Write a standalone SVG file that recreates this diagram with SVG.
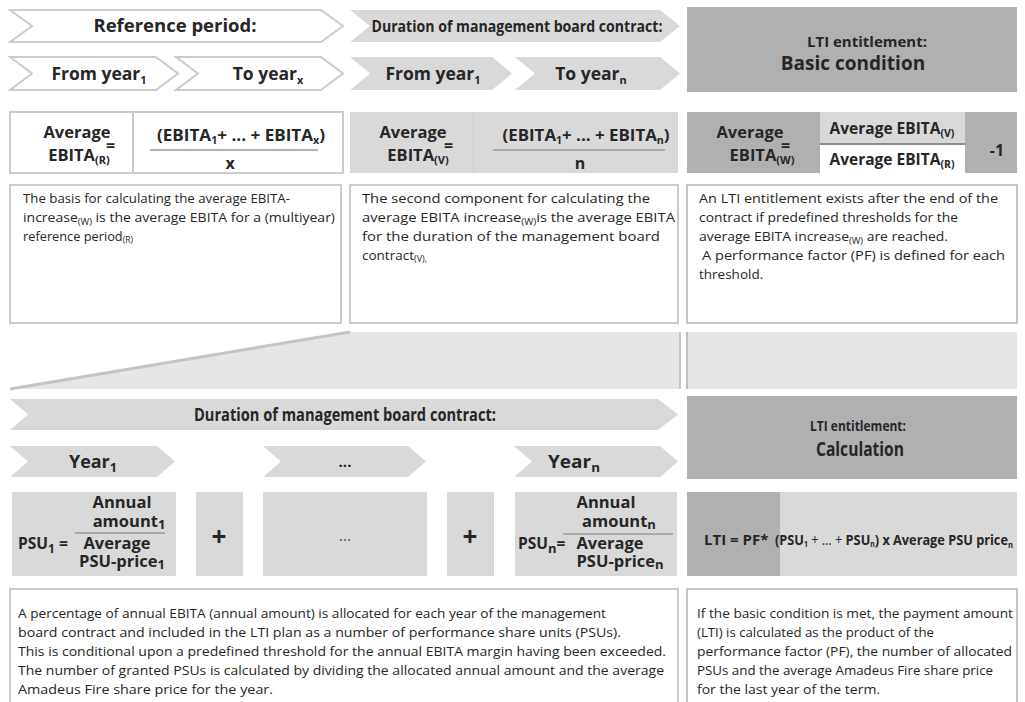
<svg xmlns="http://www.w3.org/2000/svg" width="1025" height="702" viewBox="0 0 1025 702">
<style>
.b{font-family:"Open Sans","Noto Sans","Liberation Sans",sans-serif;font-weight:700;fill:#262626}
.t{font-family:"Open Sans","Noto Sans","Liberation Sans",sans-serif;font-size:13.5px;fill:#262626}
.ol{fill:#fff;stroke:#cbcbcb;stroke-width:2}
.olr{fill:#fff;stroke:#b3b3b3;stroke-width:1.5}
.lg{fill:#d9d9d9}
.dg{fill:#b0b0b0}
.bd{fill:#e6e6e6}
.m{text-anchor:middle}
.fl{stroke:#999;stroke-width:1.5}
</style>
<rect width="1025" height="702" fill="#fff"/>

<g id="reference-period">
<path class="ol" d="M10,10 H321 L343,26 L321,42 H10 L32,26 Z"/>
<text class="b m" x="175" y="32" font-size="18.5">Reference period:</text>
</g>
<g id="duration-top">
<path class="lg" d="M350,10 H660 L680,26 L660,42 H350 L370,26 Z"/>
<text class="b m" x="517" y="32" font-size="16.5" textLength="291" lengthAdjust="spacingAndGlyphs">Duration of management board contract:</text>
</g>
<g id="lti-basic">
<rect class="dg" x="687" y="7" width="330" height="85"/>
<text class="b m" x="867" y="47" font-size="15">LTI entitlement:</text>
<text class="b m" x="853" y="70" font-size="19">Basic condition</text>
</g>

<g id="from-year-r">
<path class="ol" d="M10,57 H156 L178,73.5 L156,90 H10 L32,73.5 Z"/>
<text class="b m" x="99" y="80" font-size="17.5">From year<tspan font-size="11" dy="4">1</tspan></text>
</g>
<g id="to-year-x">
<path class="ol" d="M176,57 H321 L343,73.5 L321,90 H176 L198,73.5 Z"/>
<text class="b m" x="268" y="80" font-size="17.5">To year<tspan font-size="11" dy="4">x</tspan></text>
</g>
<g id="from-year-v">
<path class="lg" d="M350,57 H492 L512,73.5 L492,90 H350 L370,73.5 Z"/>
<text class="b m" x="433" y="80" font-size="17.5">From year<tspan font-size="11" dy="4">1</tspan></text>
</g>
<g id="to-year-n">
<path class="lg" d="M515,57 H660 L680,73.5 L660,90 H515 L535,73.5 Z"/>
<text class="b m" x="591" y="80" font-size="17.5">To year<tspan font-size="11" dy="4">n</tspan></text>
</g>

<g id="formula-r">
<rect class="ol" x="10" y="112" width="333" height="61"/>
<line x1="133" y1="112" x2="133" y2="173" stroke="#cbcbcb" stroke-width="2"/>
<text class="b m" x="77" y="138" font-size="16.5">Average</text>
<text class="b" x="106" y="151" font-size="16">=</text>
<text class="b m" x="79" y="161" font-size="16.5">EBITA<tspan font-size="11" dy="3">(R)</tspan></text>
<text class="b m" x="241" y="141" font-size="16" textLength="168" lengthAdjust="spacingAndGlyphs">(EBITA<tspan font-size="10" dy="3">1</tspan><tspan dy="-3">+ ... + EBITA</tspan><tspan font-size="10" dy="3">x</tspan><tspan dy="-3">)</tspan></text>
<line class="fl" x1="150" y1="150" x2="318" y2="150"/>
<text class="b m" x="230" y="169" font-size="16">x</text>
</g>

<g id="formula-v">
<rect class="lg" x="350" y="112" width="328" height="61"/>
<line x1="473" y1="112" x2="473" y2="173" stroke="#d0d0d0" stroke-width="1"/>
<text class="b m" x="413" y="138" font-size="16.5">Average</text>
<text class="b" x="444" y="151" font-size="16">=</text>
<text class="b m" x="418" y="161" font-size="16.5">EBITA<tspan font-size="11" dy="3">(V)</tspan></text>
<text class="b m" x="586" y="141" font-size="16" textLength="167" lengthAdjust="spacingAndGlyphs">(EBITA<tspan font-size="10" dy="3">1</tspan><tspan dy="-3">+ ... + EBITA</tspan><tspan font-size="10" dy="3">n</tspan><tspan dy="-3">)</tspan></text>
<line class="fl" x1="493" y1="150" x2="665" y2="150"/>
<text class="b m" x="580" y="169" font-size="16">n</text>
</g>

<g id="formula-w">
<rect class="dg" x="687" y="112" width="330" height="61"/>
<rect fill="#d9d9d9" x="820" y="112" width="145" height="31"/>
<rect fill="#fff" x="820" y="145" width="145" height="28"/>
<line x1="820" y1="144" x2="965" y2="144" stroke="#8c8c8c" stroke-width="2"/>
<text class="b m" x="750" y="138" font-size="16.5">Average</text>
<text class="b" x="781" y="151" font-size="16">=</text>
<text class="b m" x="762" y="161" font-size="16.5">EBITA<tspan font-size="11" dy="3">(W)</tspan></text>
<text class="b m" x="892" y="134" font-size="15.5">Average EBITA<tspan font-size="10.5" dy="3">(V)</tspan></text>
<text class="b m" x="892" y="165" font-size="15.5">Average EBITA<tspan font-size="10.5" dy="3">(R)</tspan></text>
<text class="b m" x="997" y="156" font-size="16">-1</text>
</g>

<g id="text-r">
<rect class="ol" x="10" y="185" width="331" height="138"/>
<text class="t" x="23" y="203" textLength="267" lengthAdjust="spacingAndGlyphs">The basis for calculating the average EBITA-</text>
<text class="t" x="23" y="222" textLength="312" lengthAdjust="spacingAndGlyphs">increase<tspan font-size="9" dy="3">(W)</tspan><tspan dy="-3"> is the average EBITA for a (multiyear)</tspan></text>
<text class="t" x="23" y="241" textLength="110" lengthAdjust="spacingAndGlyphs">reference period<tspan font-size="9" dy="2">(R)</tspan></text>
</g>
<g id="text-v">
<rect class="ol" x="350" y="185" width="328" height="138"/>
<text class="t" x="362" y="203" textLength="288" lengthAdjust="spacingAndGlyphs">The second component for calculating the</text>
<text class="t" x="362" y="222" textLength="313" lengthAdjust="spacingAndGlyphs">average EBITA increase<tspan font-size="9" dy="3">(W)</tspan><tspan dy="-3">is the average EBITA</tspan></text>
<text class="t" x="362" y="241" textLength="298" lengthAdjust="spacingAndGlyphs">for the duration of the management board</text>
<text class="t" x="362" y="260">contract<tspan font-size="9" dy="2">(V),</tspan></text>
</g>
<g id="text-w">
<rect class="olr" x="687" y="185" width="330" height="138"/>
<text class="t" x="699" y="203" textLength="299" lengthAdjust="spacingAndGlyphs">An LTI entitlement exists after the end of the</text>
<text class="t" x="699" y="222" textLength="259" lengthAdjust="spacingAndGlyphs">contract if predefined thresholds for the</text>
<text class="t" x="699" y="241" textLength="249" lengthAdjust="spacingAndGlyphs">average EBITA increase<tspan font-size="9" dy="3">(W)</tspan><tspan dy="-3"> are reached.</tspan></text>
<text class="t" x="702" y="260" textLength="303" lengthAdjust="spacingAndGlyphs">A performance factor (PF) is defined for each</text>
<text class="t" x="699" y="279">threshold.</text>
</g>

<g id="transition-band">
<polygon class="bd" points="10,389 350,332 680,332 680,389"/>
<line x1="10" y1="389" x2="350" y2="332" stroke="#c4c4c4" stroke-width="3"/>
<line x1="680" y1="332" x2="680" y2="389" stroke="#c4c4c4" stroke-width="2"/>
<rect class="bd" x="687" y="332" width="330" height="57"/>
<line x1="687" y1="332" x2="687" y2="389" stroke="#bdbdbd" stroke-width="2"/>
</g>

<g id="duration-bottom">
<path class="lg" d="M10,399 H658 L678,414.5 L658,430 H10 L28,414.5 Z"/>
<text class="b m" x="345" y="421" font-size="18" textLength="302" lengthAdjust="spacingAndGlyphs">Duration of management board contract:</text>
</g>
<g id="lti-calc">
<rect class="dg" x="687" y="396" width="330" height="83"/>
<text class="b m" x="858" y="431" font-size="15" textLength="96" lengthAdjust="spacingAndGlyphs">LTI entitlement:</text>
<text class="b m" x="860" y="456" font-size="19" textLength="88" lengthAdjust="spacingAndGlyphs">Calculation</text>
</g>

<g id="year-1">
<path class="lg" d="M10,446 H157 L175,461.5 L157,477 H10 L28,461.5 Z"/>
<text class="b m" x="93" y="468" font-size="17" textLength="48" lengthAdjust="spacingAndGlyphs">Year<tspan font-size="12" dy="4">1</tspan></text>
</g>
<g id="year-dots">
<path class="lg" d="M263,446 H408 L426,461.5 L408,477 H263 L281,461.5 Z"/>
<text class="b m" x="345" y="467" font-size="15">...</text>
</g>
<g id="year-n">
<path class="lg" d="M514,446 H660 L678,461.5 L660,477 H514 L532,461.5 Z"/>
<text class="b m" x="574" y="468" font-size="17" textLength="52" lengthAdjust="spacingAndGlyphs">Year<tspan font-size="12" dy="4">n</tspan></text>
</g>

<g id="psu-1">
<rect class="lg" x="12" y="492" width="164" height="84"/>
<text class="b" x="18" y="549" font-size="15.5">PSU<tspan font-size="12" dy="4">1</tspan><tspan dy="-4"> =</tspan></text>
<text class="b m" x="122" y="508" font-size="16.5">Annual</text>
<text class="b m" x="129" y="527" font-size="16.5">amount<tspan font-size="13" dy="2">1</tspan></text>
<line x1="75" y1="533" x2="165" y2="533" stroke="#9a9a9a" stroke-width="1.5"/>
<text class="b m" x="117" y="549" font-size="16.5">Average</text>
<text class="b m" x="122" y="567" font-size="16.5">PSU-price<tspan font-size="13" dy="2">1</tspan></text>
</g>
<g id="plus-1">
<rect class="lg" x="196" y="492" width="47" height="84"/>
<text class="b m" x="219" y="546" font-size="26">+</text>
</g>
<g id="psu-dots">
<rect class="lg" x="263" y="492" width="164" height="84"/>
<text class="m" x="345" y="541" font-size="16" fill="#555" font-family="Open Sans, sans-serif">…</text>
</g>
<g id="plus-2">
<rect class="lg" x="447" y="492" width="47" height="84"/>
<text class="b m" x="470" y="546" font-size="26">+</text>
</g>
<g id="psu-n">
<rect class="lg" x="515" y="492" width="162" height="84"/>
<text class="b" x="518" y="549" font-size="15.5">PSU<tspan font-size="13" dy="4">n</tspan><tspan dy="-4">=</tspan></text>
<text class="b m" x="606" y="508" font-size="16.5">Annual</text>
<text class="b m" x="619" y="527" font-size="16.5">amount<tspan font-size="13" dy="2">n</tspan></text>
<line x1="563" y1="534" x2="673" y2="534" stroke="#9a9a9a" stroke-width="1.5"/>
<text class="b m" x="610" y="549" font-size="16.5">Average</text>
<text class="b m" x="620" y="567" font-size="16.5">PSU-price<tspan font-size="13" dy="2">n</tspan></text>
</g>
<g id="lti-formula">
<rect class="lg" x="687" y="492" width="330" height="84"/>
<rect class="dg" x="687" y="492" width="93" height="84"/>
<text class="b" x="704" y="545" font-size="15">LTI = PF*</text>
<text class="b" x="775" y="545" font-size="15" textLength="238" lengthAdjust="spacingAndGlyphs">(PSU<tspan font-size="8" dy="2">1</tspan><tspan dy="-2" font-weight="400"> + … + </tspan>PSU<tspan font-size="8" dy="2">n</tspan><tspan dy="-2">) x Average PSU price</tspan><tspan font-size="9" dy="3">n</tspan></text>
</g>

<g id="text-psu">
<rect class="ol" x="10" y="589" width="668" height="125"/>
<text class="t" x="18" y="618" textLength="588" lengthAdjust="spacingAndGlyphs">A percentage of annual EBITA (annual amount) is allocated for each year of the management</text>
<text class="t" x="18" y="637" textLength="603" lengthAdjust="spacingAndGlyphs">board contract and included in the LTI plan as a number of performance share units (PSUs).</text>
<text class="t" x="18" y="656" textLength="648" lengthAdjust="spacingAndGlyphs">This is conditional upon a predefined threshold for the annual EBITA margin having been exceeded.</text>
<text class="t" x="18" y="675" textLength="646" lengthAdjust="spacingAndGlyphs">The number of granted PSUs is calculated by dividing the allocated annual amount and the average</text>
<text class="t" x="18" y="694" textLength="255" lengthAdjust="spacingAndGlyphs">Amadeus Fire share price for the year.</text>
</g>
<g id="text-lti">
<rect class="olr" x="687" y="589" width="330" height="125"/>
<text class="t" x="697" y="618" textLength="316" lengthAdjust="spacingAndGlyphs">If the basic condition is met, the payment amount</text>
<text class="t" x="697" y="637" textLength="237" lengthAdjust="spacingAndGlyphs">(LTI) is calculated as the product of the</text>
<text class="t" x="697" y="656" textLength="315" lengthAdjust="spacingAndGlyphs">performance factor (PF), the number of allocated</text>
<text class="t" x="697" y="675" textLength="296" lengthAdjust="spacingAndGlyphs">PSUs and the average Amadeus Fire share price</text>
<text class="t" x="697" y="694" textLength="183" lengthAdjust="spacingAndGlyphs">for the last year of the term.</text>
</g>
</svg>
